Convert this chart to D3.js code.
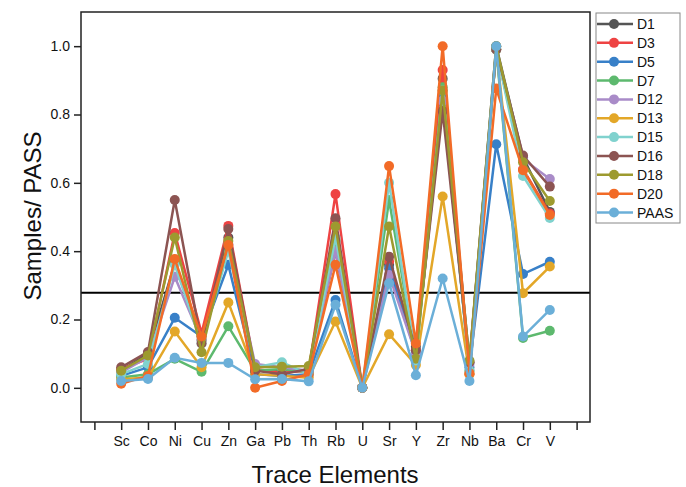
<!DOCTYPE html>
<html>
<head>
<meta charset="utf-8">
<script src="https://cdn.jsdelivr.net/npm/d3@7"></script>
<style>
  body { margin: 0; background: #fff; }
  text { font-family: "Liberation Sans", Arial, sans-serif; }
</style>
</head>
<body>
<div id="chart"></div>
<script>
// tick labels on x (blank slots at both ends)
const elements = ["", "Sc", "Co", "Ni", "Cu", "Zn", "Ga", "Pb", "Th", "Rb", "U", "Sr", "Y", "Zr", "Nb", "Ba", "Cr", "V", ""];
const yTicks = [0.0, 0.2, 0.4, 0.6, 0.8, 1.0];
const refLine = 0.278;

// Sc, Co, Ni, Cu, Zn, Ga, Pb, Th, Rb, U, Sr, Y, Zr, Nb, Ba, Cr, V
const D1   = [0.050, 0.100, 0.365, 0.140, 0.440, 0.050, 0.050, 0.050, 0.400, 0.0, 0.360, 0.120, 0.905, 0.075, 1.000, 0.675, 0.515];
const D3   = [0.055, 0.085, 0.453, 0.160, 0.474, 0.055, 0.045, 0.050, 0.567, 0.0, 0.370, 0.110, 0.930, 0.040, 0.990, 0.640, 0.510];
const D5   = [0.035, 0.060, 0.205, 0.150, 0.360, 0.040, 0.035, 0.040, 0.257, 0.0, 0.350, 0.100, 0.850, 0.060, 0.713, 0.333, 0.369];
const D7   = [0.030, 0.040, 0.085, 0.047, 0.180, 0.050, 0.055, 0.045, 0.430, 0.0, 0.550, 0.090, 0.880, 0.050, 0.990, 0.146, 0.167];
const D12  = [0.045, 0.090, 0.325, 0.140, 0.420, 0.070, 0.060, 0.050, 0.400, 0.0, 0.330, 0.100, 0.840, 0.070, 0.990, 0.670, 0.611];
const D13  = [0.025, 0.030, 0.165, 0.060, 0.250, 0.040, 0.035, 0.030, 0.194, 0.0, 0.157, 0.067, 0.560, 0.040, 0.990, 0.277, 0.355];
const D15  = [0.040, 0.070, 0.360, 0.130, 0.400, 0.060, 0.075, 0.040, 0.440, 0.0, 0.600, 0.080, 0.870, 0.050, 0.990, 0.620, 0.497];
const D16  = [0.060, 0.105, 0.550, 0.130, 0.465, 0.050, 0.040, 0.055, 0.496, 0.0, 0.384, 0.110, 0.810, 0.075, 0.990, 0.680, 0.589];
const D18  = [0.050, 0.095, 0.440, 0.104, 0.430, 0.060, 0.062, 0.064, 0.472, 0.0, 0.472, 0.085, 0.870, 0.080, 1.000, 0.660, 0.547];
const D20  = [0.012, 0.035, 0.377, 0.150, 0.418, 0.000, 0.020, 0.040, 0.360, 0.0, 0.649, 0.130, 1.000, 0.043, 0.876, 0.637, 0.506];
const PAAS = [0.020, 0.026, 0.088, 0.073, 0.073, 0.025, 0.026, 0.019, 0.243, 0.0, 0.306, 0.037, 0.320, 0.020, 1.000, 0.150, 0.228];

const seriesNames = ["D1", "D3", "D5", "D7", "D12", "D13", "D15", "D16", "D18", "D20", "PAAS"];
const seriesValues = [D1, D3, D5, D7, D12, D13, D15, D16, D18, D20, PAAS];
const colors = ["#555555", "#EE4343", "#3880C8", "#5DB96E", "#A98BC8", "#E3A728", "#80D2CE", "#8C5452", "#9D9A2F", "#F26B27", "#6BAFD8"];

const W = 686, H = 487;
const margin = { left: 81, right: 96, top: 12, bottom: 65 };

const svg = d3.select("#chart").append("svg")
  .attr("width", W).attr("height", H);

const x = d3.scaleLinear().domain([-0.5, 18.5]).range([margin.left, W - margin.right]);
const y = d3.scaleLinear().domain([-0.1, 1.1]).range([H - margin.bottom, margin.top]);

// reference line
svg.append("line")
  .attr("x1", x(-0.5)).attr("x2", x(18.5))
  .attr("y1", y(refLine)).attr("y2", y(refLine))
  .attr("stroke", "#000").attr("stroke-width", 2);

// series
const line = d3.line().x((d, i) => x(i + 1)).y(d => y(d));
seriesValues.forEach((vals, k) => {
  const g = svg.append("g");
  g.append("path")
    .datum(vals)
    .attr("fill", "none")
    .attr("stroke", colors[k])
    .attr("stroke-width", 2.5)
    .attr("d", line);
  g.selectAll("circle").data(vals).join("circle")
    .attr("cx", (d, i) => x(i + 1))
    .attr("cy", d => y(d))
    .attr("r", 5)
    .attr("fill", colors[k]);
});

// axes
const xAxis = svg.append("g")
  .attr("transform", "translate(0," + (H - margin.bottom) + ")")
  .call(d3.axisBottom(x).tickValues(d3.range(0, 19)).tickFormat(i => elements[i]).tickSize(8).tickPadding(6));
const yAxis = svg.append("g")
  .attr("transform", "translate(" + margin.left + ",0)")
  .call(d3.axisLeft(y).tickValues(yTicks).tickFormat(d3.format(".1f")).tickSize(7).tickPadding(4));
[xAxis, yAxis].forEach(a => {
  a.select(".domain").remove();
  a.selectAll(".tick line").attr("stroke", "#222").attr("stroke-width", 1.5);
  a.selectAll(".tick text").attr("font-size", 14).attr("fill", "#111")
    .attr("font-family", "'Liberation Sans', Arial, sans-serif");
});

// frame
svg.append("rect")
  .attr("x", margin.left).attr("y", margin.top)
  .attr("width", W - margin.left - margin.right)
  .attr("height", H - margin.top - margin.bottom)
  .attr("fill", "none").attr("stroke", "#222").attr("stroke-width", 1.5);

// axis titles
svg.append("text")
  .attr("x", 335).attr("y", 483)
  .attr("text-anchor", "middle").attr("font-size", 24).attr("fill", "#111")
  .text("Trace Elements");
svg.append("text")
  .attr("transform", "translate(41,216) rotate(-90)")
  .attr("text-anchor", "middle").attr("font-size", 24).attr("fill", "#111")
  .text("Samples/ PASS");

// legend
const lg = svg.append("g");
lg.append("rect")
  .attr("x", 596).attr("y", 13).attr("width", 84).attr("height", 210)
  .attr("fill", "#fff").attr("stroke", "#888").attr("stroke-width", 1);
seriesNames.forEach((name, k) => {
  const yy = 24 + k * 18.85;
  lg.append("line")
    .attr("x1", 597).attr("x2", 633).attr("y1", yy).attr("y2", yy)
    .attr("stroke", colors[k]).attr("stroke-width", 2.5);
  lg.append("circle").attr("cx", 614).attr("cy", yy).attr("r", 5).attr("fill", colors[k]);
  lg.append("text").attr("x", 637).attr("y", yy + 5)
    .attr("font-size", 14).attr("fill", "#111").text(name);
});
</script>
</body>
</html>
